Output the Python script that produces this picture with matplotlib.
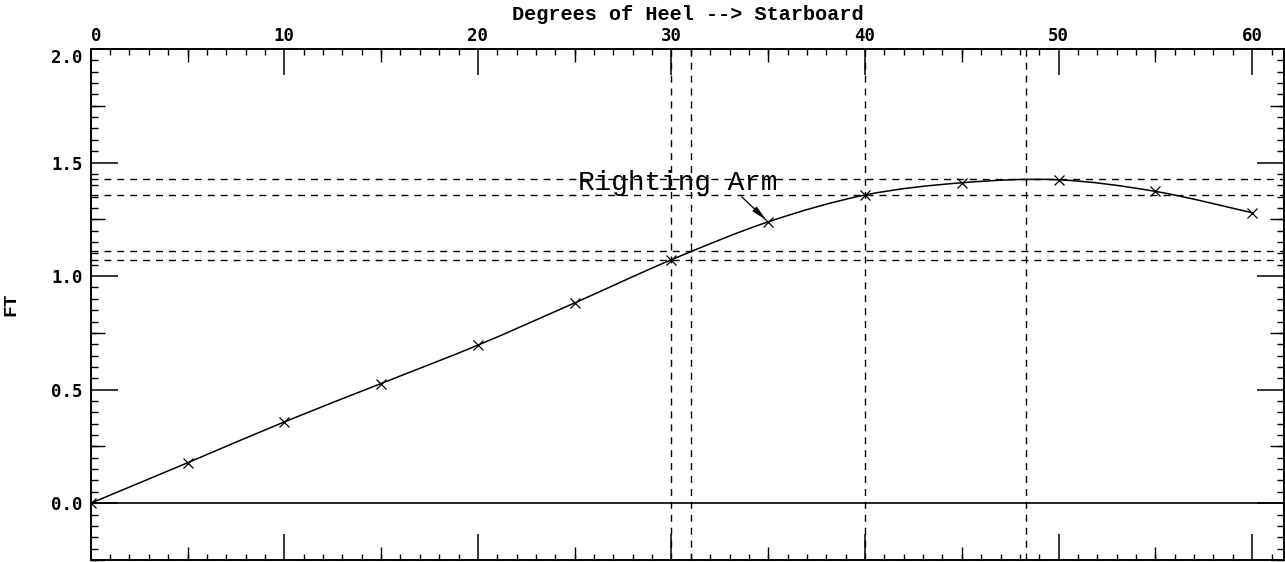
import numpy as np
import matplotlib
matplotlib.use("Agg")
import matplotlib.pyplot as plt
from matplotlib.path import Path
from matplotlib.patches import PathPatch
from matplotlib.ticker import MultipleLocator, FixedLocator, NullFormatter

# ---- data ----
heel = [0, 5, 10, 15, 20, 25, 30, 35, 40, 45, 50, 55, 60]
arm = [0.000, 0.178, 0.358, 0.527, 0.696, 0.882, 1.072, 1.239, 1.357, 1.411, 1.424, 1.373, 1.279]
h_ref = [1.427, 1.357, 1.110, 1.070]
v_ref = [30.0, 31.0, 40.0, 48.3]
x_ticklabels = ["0", "10", "20", "30", "40", "50", "60"]
y_ticklabels = ["0.0", "0.5", "1.0", "1.5", "2.0"]
title = "Degrees of Heel --> Starboard"
ylabel = "FT"
annot = "Righting Arm"
annot_xy = (35, 1.239)
annot_text_xy = (30.35, 1.379)
annot_tail = (33.63, 1.349)

fig = plt.figure(figsize=(12.85, 5.62), dpi=100)
ax = fig.add_axes([0.0706, 0.0036, 0.9287, 0.9092])
ax.set_xlim(0, 61.65)
ax.set_ylim(-0.25, 2.0)

for s in ax.spines.values():
    s.set_linewidth(1.2)

# smooth curve through the data (Catmull-Rom as cubic Bezier path)
x = np.asarray(heel, float)
y = np.asarray(arm, float)
verts = [(x[0], y[0])]
codes = [Path.MOVETO]
n = len(x)
for i in range(n - 1):
    p0 = np.array([x[max(i - 1, 0)], y[max(i - 1, 0)]])
    p1 = np.array([x[i], y[i]])
    p2 = np.array([x[i + 1], y[i + 1]])
    p3 = np.array([x[min(i + 2, n - 1)], y[min(i + 2, n - 1)]])
    c1 = p1 + (p2 - p0) / 6.0
    c2 = p2 - (p3 - p1) / 6.0
    verts += [tuple(c1), tuple(c2), tuple(p2)]
    codes += [Path.CURVE4, Path.CURVE4, Path.CURVE4]
ax.add_patch(PathPatch(Path(verts, codes), facecolor="none", edgecolor="black", lw=1.1, zorder=3))
ax.plot(heel, arm, linestyle="none", marker="x", color="black", markersize=6.5, mew=0.9, zorder=4)

# reference lines
dash = (0, (5, 4.3))
for hv in h_ref:
    ax.axhline(hv, color="black", lw=1.0, linestyle=dash, zorder=2)
for vv in v_ref:
    ax.axvline(vv, color="black", lw=1.0, linestyle=dash, zorder=2)
ax.axhline(0, color="black", lw=1.2, zorder=2)

# annotation
ax.text(annot_text_xy[0], annot_text_xy[1], annot, ha="center", va="baseline",
        fontsize=20, family="Liberation Mono", color="black")
ax.annotate("", xy=annot_xy, xytext=annot_tail,
            arrowprops=dict(arrowstyle="-|>,head_length=0.9,head_width=0.18",
                            color="black", lw=0.9, shrinkA=0, shrinkB=2))

# ticks: x
ax.set_xticks([0, 10, 20, 30, 40, 50, 60])
ax.set_xticklabels(x_ticklabels)
ax.xaxis.set_minor_locator(MultipleLocator(1))
ax.tick_params(axis="x", which="both", direction="in", top=True, bottom=True,
               labeltop=True, labelbottom=False)
ax.tick_params(axis="x", which="major", length=18.7, width=1.1, pad=3)
ax.tick_params(axis="x", which="minor", length=4.3, width=1.0)
ax.xaxis.set_label_position("top")
ax.set_xlabel(title, fontsize=14.5, family="Liberation Mono", fontweight="bold", va="center")
ax.xaxis.set_label_coords(0.5, 1.068)

# ticks: y
ax.set_yticks([0.0, 0.5, 1.0, 1.5, 2.0])
ax.set_yticklabels(y_ticklabels)
ax.yaxis.set_minor_locator(MultipleLocator(0.05))
ax.tick_params(axis="y", which="both", direction="in", left=True, right=True,
               labelleft=True, labelright=False)
ax.tick_params(axis="y", which="major", length=19.4, width=1.1, pad=6)
ax.tick_params(axis="y", which="minor", length=4.8, width=1.0)
ax.set_ylabel(ylabel, fontsize=14, family="Liberation Mono", fontweight="bold", va="center")
ax.yaxis.set_label_coords(-0.0665, 0.5)

for lab in ax.get_xticklabels() + ax.get_yticklabels():
    lab.set_family("DejaVu Sans Mono")
    lab.set_fontweight("bold")
    lab.set_fontsize(12.5)
ax.get_xticklabels()[0].set_horizontalalignment("left")
ax.get_yticklabels()[-1].set_verticalalignment("top")

# medium ticks (every 5 deg, every 0.25 ft) via secondary axes
for loc in ("top", "bottom"):
    sx = ax.secondary_xaxis(loc)
    sx.xaxis.set_major_locator(FixedLocator([5, 15, 25, 35, 45, 55]))
    sx.xaxis.set_major_formatter(NullFormatter())
    sx.tick_params(direction="in", length=9.4, width=1.0)
    sx.spines[loc].set_linewidth(1.2)
for loc in ("left", "right"):
    sy = ax.secondary_yaxis(loc)
    sy.yaxis.set_major_locator(FixedLocator([-0.25, 0.25, 0.75, 1.25, 1.75]))
    sy.yaxis.set_major_formatter(NullFormatter())
    sy.tick_params(direction="in", length=10, width=1.0)
    sy.spines[loc].set_linewidth(1.2)

fig.savefig("out.png", dpi=100)
